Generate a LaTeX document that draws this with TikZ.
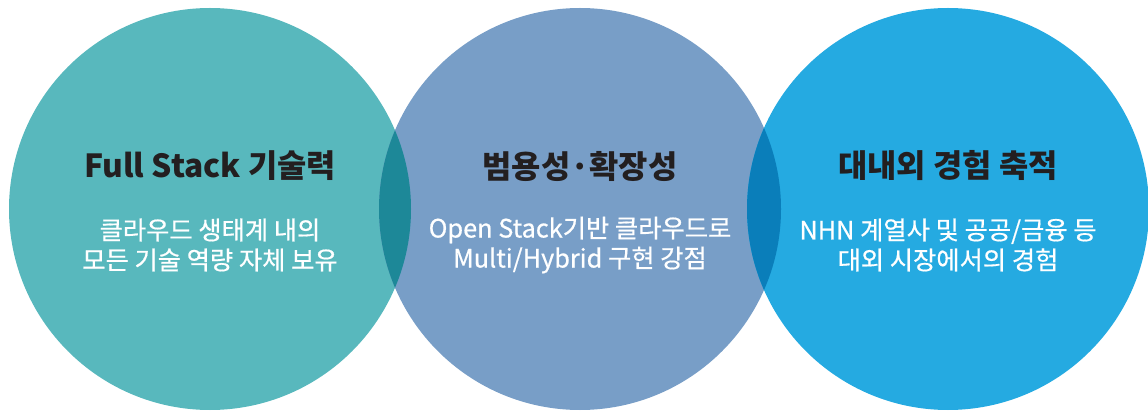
\documentclass[tikz,border=0pt]{standalone}
\usepackage{fontspec}
\setmainfont{Noto Sans CJK KR}
\newfontfamily\krsemi[FakeBold=0.6]{Noto Sans CJK KR}
\usetikzlibrary{positioning}

\definecolor{fullc}{HTML}{58B8BD}
\definecolor{stackc}{HTML}{789EC7}
\definecolor{expc}{HTML}{25AAE1}
\definecolor{fullstackc}{HTML}{1D8898}
\definecolor{stackexpc}{HTML}{0A7EBA}
\definecolor{titlec}{HTML}{231F20}

\begin{document}
\begin{tikzpicture}[x=1pt,y=-1pt,
	bubble/.style={circle,inner sep=0pt,minimum size=402pt},
	title/.style={text=titlec,font=\fontsize{31.8}{36}\selectfont\bfseries},
	sub/.style={text=white,align=center,font=\krsemi\fontsize{25.3}{30}\selectfont}]
					\useasboundingbox (0,0) rectangle (1148,411);

					\node[bubble,fill=fullc] (full) at (210,209) {};
					\node[bubble,fill=stackc] (stack) at (580,209) {};
					\node[bubble,fill=expc] (exp) at (948,209) {};

					%% overlaps
					\begin{scope}
						\clip (full.center) circle [radius=201pt];
						\fill[fullstackc] (stack.center) circle [radius=201pt];
					\end{scope}
					\begin{scope}
						\clip (stack.center) circle [radius=201pt];
						\fill[stackexpc] (exp.center) circle [radius=201pt];
					\end{scope}

					\node[title] (fullt) at (210,166) {Full Stack 기술력};
					\node[title] (stackt) at (580,166) {범용성·확장성};
					\node[title] (expt) at (948,166) {대내외 경험 축적};

					\node[sub] (fulls) at (210,245) {클라우드 생태계 내의\\모든 기술 역량 자체 보유};
					\node[sub] (stacks) at (580,245) {Open Stack기반 클라우드로\\Multi/Hybrid 구현 강점};
					\node[sub] (exps) at (948,245) {NHN 계열사 및 공공/금융 등\\대외 시장에서의 경험};
				\end{tikzpicture}
\end{document}
